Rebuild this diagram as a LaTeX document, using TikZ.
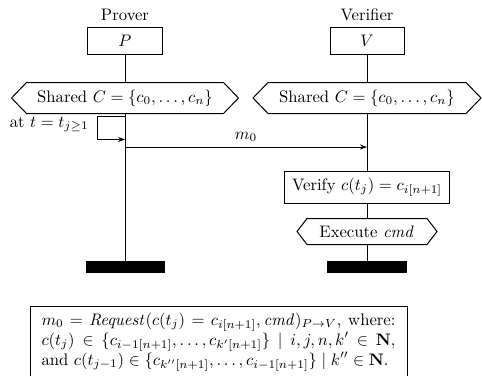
\documentclass[tikz,border=0pt]{standalone}
\usetikzlibrary{arrows.meta,backgrounds,calc}
\newcommand\px{0.6pt}
\newcommand\hexa[2]{\draw[fill=white] ([xshift=#2*\px]#1.north west) -- ([xshift=-#2*\px]#1.north east) -- (#1.east) -- ([xshift=-#2*\px]#1.south east) -- ([xshift=#2*\px]#1.south west) -- (#1.west) -- cycle;}
\tikzset{
  every path/.style={line width=0.6pt},
  actor/.style={draw, fill=white, minimum width=#1*\px, minimum height=27*\px, inner sep=0pt},
  lbl/.style={inner sep=0pt},
  hexbox/.style n args={2}{minimum width=#1*\px, minimum height=#2*\px, inner sep=0pt},
  bar/.style={fill=black, draw=black, minimum width=#1*\px, minimum height=11*\px, inner sep=0pt},
  msg/.style={-{Stealth[length=7*\px, width=5*\px]}},
  stepbox/.style={draw, fill=white, minimum width=165*\px, minimum height=32*\px, inner sep=0pt}
}
\begin{document}
\begin{tikzpicture}[x=\px, y=-\px]
\useasboundingbox (0,0) rectangle (482,376);
% actors
\node[lbl] (prover) at (125,15) {Prover};
\node[lbl] (verifier) at (367,15) {Verifier};
\node[actor=75] (P) at (125,40.5) {$P$};
\node[actor=74] (V) at (367,40.5) {$V$};
% shared
\node[hexbox={226}{30}] (shP) at (125,98) {Shared $C=\{c_0,\ldots,c_n\}$};
\node[hexbox={227}{30}] (shV) at (367,98) {Shared $C=\{c_0,\ldots,c_n\}$};
% verify, execute
\node[stepbox] (ver) at (367,187) {Verify $c(t_j)=c_{i[n+1]}$};
\node[hexbox={139}{25}] (exe) at (367,231.5) {Execute $\mathit{cmd}$};
% bars
\node[bar=78] (barP) at (125,266.5) {};
\node[bar=79] (barV) at (367,266.5) {};
\begin{scope}[on background layer]
  \draw (P.south) -- (barP.north);
  \draw (V.south) -- (barV.north);
  \hexa{shP}{15}
  \hexa{shV}{15}
  \hexa{exe}{10}
\end{scope}
% self loop
\coordinate (lt) at (125,116.5);
\coordinate (lb) at (125,139.5);
\coordinate (lc) at (97,0);
\draw[msg] (lt) -- (lc |- lt) -- (lc |- lb) -- (lb);
\node[lbl, anchor=base east] (at) at (89,127) {at $t=t_{j\geq1}$};
% message
\coordinate (m0s) at (125,147);
\coordinate (m0e) at (367,147);
\draw[msg] (m0s) -- node[lbl, above=5*\px] (m0lbl) {$m_0$} (m0e);
% bottom box
\node[anchor=north west, inner xsep=11*\px, inner ysep=6*\px, text width=354*\px, align=justify] (bx) at (30,306)
{$m_0 = \mathit{Request}(c(t_j) = c_{i[n+1]}, \mathit{cmd})_{P\rightarrow V}$, where:\linebreak
$c(t_j) \in \{c_{i-1[n+1]}, \ldots, c_{k'[n+1]}\} \mid i,j,n,k' \in \mathbf{N}$,\linebreak
and $c(t_{j-1}) \in \{c_{k''[n+1]}, \ldots, c_{i-1[n+1]}\} \mid k'' \in \mathbf{N}$.};
\coordinate (bot) at (0,376);
\draw (bx.north west |- bot) -- (bx.north west) -- (bx.north east) -- (bx.north east |- bot);
\end{tikzpicture}
\end{document}
